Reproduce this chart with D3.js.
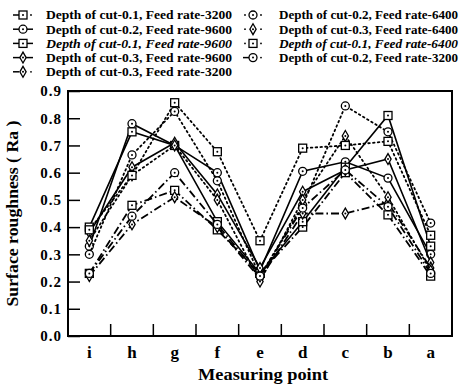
<!DOCTYPE html>
<html>
<head>
<meta charset="utf-8">
<script src="https://cdn.jsdelivr.net/npm/d3@7"></script>
<style>
  body { margin: 0; background: #fff; }
  .chart { width: 465px; height: 388px; }
  text { font-family: 'Liberation Serif', 'Times New Roman', serif; font-weight: bold; fill: #000; }
</style>
</head>
<body>
<div class="chart"></div>
<script>
// Measuring points, left to right
var points = ['i', 'h', 'g', 'f', 'e', 'd', 'c', 'b', 'a'];
var yTicks = [0.0, 0.1, 0.2, 0.3, 0.4, 0.5, 0.6, 0.7, 0.8, 0.9];

// Surface roughness (Ra) per series, in the order of points
var cut01Feed3200 = [0.23, 0.48, 0.535, 0.39, 0.23, 0.40, 0.60, 0.445, 0.22];
var cut02Feed9600 = [0.33, 0.78, 0.70, 0.60, 0.24, 0.605, 0.64, 0.58, 0.30];
var cut01Feed9600 = [0.40, 0.75, 0.70, 0.42, 0.23, 0.42, 0.62, 0.81, 0.33];
var cut03Feed9600 = [0.38, 0.62, 0.71, 0.52, 0.25, 0.53, 0.61, 0.65, 0.27];
var cut03Feed3200 = [0.22, 0.41, 0.51, 0.40, 0.21, 0.45, 0.45, 0.49, 0.25];
var cut02Feed6400 = [0.30, 0.665, 0.825, 0.57, 0.22, 0.48, 0.845, 0.75, 0.415];
var cut03Feed6400 = [0.35, 0.59, 0.70, 0.50, 0.20, 0.50, 0.735, 0.51, 0.24];
var cut01Feed6400 = [0.39, 0.59, 0.857, 0.677, 0.35, 0.69, 0.70, 0.715, 0.37];
var cut02Feed3200 = [0.23, 0.44, 0.60, 0.41, 0.22, 0.47, 0.61, 0.475, 0.23];

var series = [
  { name: 'Depth of cut-0.1, Feed rate-3200', values: cut01Feed3200, line: 'dashdot', marker: 'square' },
  { name: 'Depth of cut-0.2, Feed rate-9600', values: cut02Feed9600, line: 'solid', marker: 'circle' },
  { name: 'Depth of cut-0.1, Feed rate-9600', values: cut01Feed9600, line: 'solid', marker: 'square', italic: true },
  { name: 'Depth of cut-0.3, Feed rate-9600', values: cut03Feed9600, line: 'solid', marker: 'diamond' },
  { name: 'Depth of cut-0.3, Feed rate-3200', values: cut03Feed3200, line: 'dashdot', marker: 'diamond' },
  { name: 'Depth of cut-0.2, Feed rate-6400', values: cut02Feed6400, line: 'dotted', marker: 'circle' },
  { name: 'Depth of cut-0.3, Feed rate-6400', values: cut03Feed6400, line: 'dotted', marker: 'diamond' },
  { name: 'Depth of cut-0.1, Feed rate-6400', values: cut01Feed6400, line: 'dotted', marker: 'square', italic: true },
  { name: 'Depth of cut-0.2, Feed rate-3200', values: cut02Feed3200, line: 'dashdot', marker: 'circle' }
];

(function chart() {

  'strict';

  var margins = {
    top: 91,
    right: 13,
    bottom: 52,
    left: 68
  };

  var dashes = {
    solid: null,
    dotted: '1.6,3.2',
    dashdot: '8,3,1.6,3'
  };

  var width = 465;
  var height = 388;

  var svg = d3.select('.chart').append('svg')
    .attr('width', width)
    .attr('height', height);

  var x = d3.scaleBand()
    .domain(points)
    .range([margins.left, width - margins.right]);

  var y = d3.scaleLinear()
    .domain([0, 0.9])
    .range([height - margins.bottom, margins.top]);

  function cx(d, i) {
    return x(points[i]) + x.bandwidth() / 2;
  }

  function marker(sel, type) {

    if (type === 'circle') {
      sel.append('circle').attr('r', 4);
    } else if (type === 'square') {
      sel.append('rect').attr('x', -4).attr('y', -4).attr('width', 8).attr('height', 8);
    } else {
      sel.append('path').attr('d', d3.symbol(d3.symbolDiamond, 34)());
    }

    sel.selectAll('circle, rect, path')
      .attr('fill', '#fff')
      .attr('stroke', '#000')
      .attr('stroke-width', 1.3);

    sel.append('circle')
      .attr('r', 1)
      .attr('fill', '#000');
  }

  // Y axis, ticks pointing inward
  var yAxis = svg.append('g')
    .attr('transform', 'translate(' + margins.left + ',0)')
    .call(d3.axisLeft(y)
      .tickValues(yTicks)
      .tickSize(-12)
      .tickPadding(6)
      .tickFormat(d3.format('.1f')));

  yAxis.select('.domain').remove();
  yAxis.selectAll('line').attr('stroke-width', 1.5);
  yAxis.selectAll('text')
    .style('font-size', '15px')
    .attr('letter-spacing', 1)
    .attr('font-family', null);

  // X axis labels at band centres
  var xAxis = svg.append('g')
    .attr('transform', 'translate(0,' + (height - margins.bottom) + ')')
    .call(d3.axisBottom(x).tickSize(0).tickPadding(10));

  xAxis.select('.domain').remove();
  xAxis.selectAll('text')
    .style('font-size', '17px')
    .attr('font-family', null);

  // X ticks sit on the band boundaries
  svg.append('g')
    .selectAll('line')
      .data(points.slice(1))
      .enter()
    .append('line')
      .attr('x1', function (d) { return x(d); })
      .attr('x2', function (d) { return x(d); })
      .attr('y1', height - margins.bottom)
      .attr('y2', height - margins.bottom - 12)
      .attr('stroke', '#000')
      .attr('stroke-width', 1.5);

  svg.append('rect')
    .attr('x', margins.left)
    .attr('y', margins.top)
    .attr('width', width - margins.left - margins.right)
    .attr('height', height - margins.top - margins.bottom)
    .attr('fill', 'none')
    .attr('stroke', '#000')
    .attr('stroke-width', 2);

  var line = d3.line()
    .x(cx)
    .y(function (d) { return y(d); });

  var groups = svg.append('g')
    .selectAll('.series')
      .data(series)
      .enter()
    .append('g')
      .attr('class', 'series');

  groups.append('path')
    .attr('d', function (d) { return line(d.values); })
    .attr('fill', 'none')
    .attr('stroke', '#000')
    .attr('stroke-width', function (d) { return d.line === 'solid' ? 1.6 : 1.8; })
    .attr('stroke-linecap', function (d) { return d.line === 'dotted' ? 'round' : 'butt'; })
    .attr('stroke-dasharray', function (d) { return dashes[d.line]; });

  groups.each(function (s) {

    d3.select(this).selectAll('.pt')
        .data(s.values)
        .enter()
      .append('g')
        .attr('class', 'pt')
        .attr('transform', function (d, i) {
          return 'translate(' + cx(d, i) + ',' + y(d) + ')';
        })
        .each(function () { marker(d3.select(this), s.marker); });
  });

  // Legend, two columns
  var legend = svg.append('g')
    .selectAll('.entry')
      .data(series)
      .enter()
    .append('g')
      .attr('class', 'entry')
      .attr('transform', function (d, i) {
        var col = i < 5 ? 0 : 1;
        var row = i < 5 ? i : i - 5;
        return 'translate(' + (col ? 253 : 23) + ',' + (15 + row * 14.2) + ')';
      });

  legend.each(function (s, i) {

    var g = d3.select(this);

    if (s.line === 'solid') {
      g.append('line').attr('x1', -10).attr('x2', 10);
    } else if (s.line === 'dashdot') {
      g.append('line').attr('x1', -10).attr('x2', -4);
      g.append('circle').attr('cx', 8).attr('r', 0.9);
    } else {
      g.append('circle').attr('cx', -8).attr('r', 0.9);
      g.append('circle').attr('cx', 8).attr('r', 0.9);
    }

    g.selectAll('line').attr('stroke', '#000').attr('stroke-width', 1.5);
    g.selectAll('circle').attr('fill', '#000');

    var m = g.append('g');
    marker(m, s.marker);

    // the scanned legend type is a little wider than Times, so stretch to fit
    g.append('text')
      .attr('x', i < 5 ? 23 : 26)
      .attr('dy', '0.34em')
      .attr('textLength', i < 5 ? 186 : 179)
      .attr('lengthAdjust', 'spacingAndGlyphs')
      .style('font-size', '13px')
      .style('font-style', s.italic ? 'italic' : 'normal')
      .text(s.name);
  });

  svg.append('text')
    .attr('transform', 'translate(18,' + (margins.top + (height - margins.top - margins.bottom) / 2) + ') rotate(-90)')
    .attr('text-anchor', 'middle')
    .attr('textLength', 186)
    .attr('lengthAdjust', 'spacingAndGlyphs')
    .style('font-size', '16px')
    .text('Surface roughness ( Ra )');

  svg.append('text')
    .attr('x', 263)
    .attr('y', 380)
    .attr('text-anchor', 'middle')
    .attr('textLength', 130)
    .attr('lengthAdjust', 'spacingAndGlyphs')
    .style('font-size', '16px')
    .text('Measuring point');
})();
</script>
</body>
</html>
